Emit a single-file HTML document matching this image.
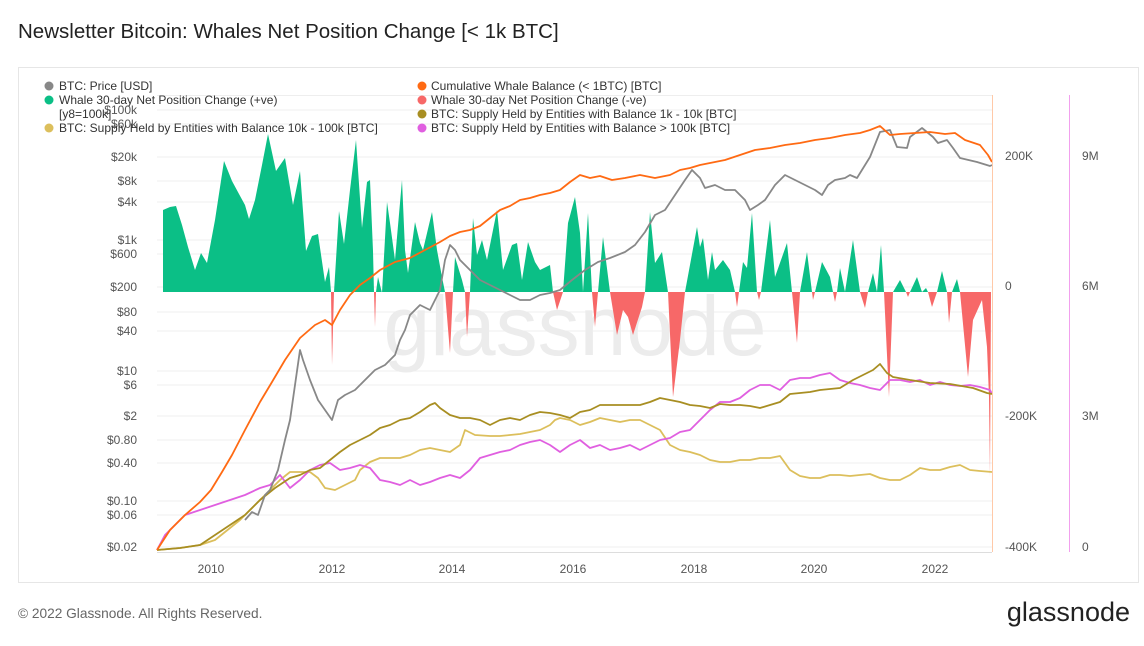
<!DOCTYPE html>
<html><head><meta charset="utf-8"><style>
body{margin:0;width:1144px;height:646px;background:#fff;font-family:"Liberation Sans",sans-serif;overflow:hidden}
svg{position:absolute;left:0;top:0}
</style></head><body>
<svg width="1144" height="646" viewBox="0 0 1144 646" font-family="Liberation Sans, sans-serif">
<text x="18" y="38" font-size="20.5" fill="#222">Newsletter Bitcoin: Whales Net Position Change [&lt; 1k BTC]</text>
<rect x="18.5" y="67.5" width="1120" height="515" fill="#fff" stroke="#e6e6e6"/>
<g stroke="#efefef" stroke-width="1">
<line x1="157" x2="992" y1="110" y2="110"/><line x1="157" x2="992" y1="124" y2="124"/><line x1="157" x2="992" y1="157" y2="157"/>
<line x1="157" x2="992" y1="181" y2="181"/><line x1="157" x2="992" y1="202" y2="202"/><line x1="157" x2="992" y1="240" y2="240"/>
<line x1="157" x2="992" y1="254" y2="254"/><line x1="157" x2="992" y1="287" y2="287"/><line x1="157" x2="992" y1="312" y2="312"/>
<line x1="157" x2="992" y1="331" y2="331"/><line x1="157" x2="992" y1="371" y2="371"/><line x1="157" x2="992" y1="385" y2="385"/>
<line x1="157" x2="992" y1="416" y2="416"/><line x1="157" x2="992" y1="440" y2="440"/><line x1="157" x2="992" y1="463" y2="463"/>
<line x1="157" x2="992" y1="501" y2="501"/><line x1="157" x2="992" y1="515" y2="515"/><line x1="157" x2="992" y1="547" y2="547"/>
</g>
<line x1="157" x2="992" y1="552.5" y2="552.5" stroke="#ddd"/>
<line x1="157" x2="992" y1="95.5" y2="95.5" stroke="#eee"/>
<text x="575" y="355" font-size="84" fill="#ececec" text-anchor="middle">glassnode</text>
<defs>
<clipPath id="up"><rect x="150" y="80" width="850" height="212"/></clipPath>
<clipPath id="dn"><rect x="150" y="292" width="850" height="300"/></clipPath>
</defs>
<polygon clip-path="url(#up)" fill="#0bbf86" points="157,292 163,292 163,210 170,207 176,206 182,225 188,247 195,270 201,253 207,263 215,220 224,161 232,181 239,194 245,205 249,219 255,200 262,165 268,134 276,171 285,158 293,205 300,171 306,251 312,236 318,234 325,282 329,267 331,292 332,365 334,292 339,211 344,244 350,190 356,140 362,228 367,182 370,180 373,251 374,292 375,327 376,292 378,277 382,293 387,202 390,223 395,260 402,180 405,250 408,273 415,222 420,243 423,250 432,212 437,250 442,277 445,292 450,353 453,292 455,257 462,280 465,292 467,337 470,292 473,218 477,255 482,240 487,260 497,210 503,270 512,245 517,243 522,280 528,242 535,262 540,270 550,265 553,292 557,310 563,292 568,223 575,197 580,233 583,292 588,213 592,292 595,327 598,292 603,237 610,292 617,335 623,310 628,317 633,335 642,307 645,292 650,212 655,263 662,252 668,292 673,397 680,340 685,292 697,227 700,247 703,238 708,280 712,252 715,270 723,260 730,270 735,292 737,307 739,292 743,262 747,268 752,213 757,292 759,300 761,292 770,220 775,277 787,243 792,292 797,343 800,292 807,252 812,292 813,300 815,292 822,262 830,277 833,292 835,302 837,292 840,268 845,292 853,240 860,292 865,308 868,292 873,273 877,292 881,245 884,292 889,397 893,292 900,280 906,292 908,297 910,292 917,277 922,292 926,288 928,292 932,307 937,292 942,271 947,292 949,323 952,292 957,279 960,292 968,377 973,320 982,300 987,347 989,397 990,477 991,292 992,292"/>
<polygon clip-path="url(#dn)" fill="#f76868" points="157,292 163,292 329,292 331,292 332,365 334,292 374,292 375,327 376,292 445,292 450,353 453,292 465,292 467,337 470,292 553,292 557,310 563,292 592,292 595,327 598,292 610,292 617,335 623,310 628,317 633,335 642,307 645,292 668,292 673,397 680,340 685,292 735,292 737,307 739,292 757,292 759,300 761,292 792,292 797,343 800,292 812,292 813,300 815,292 833,292 835,302 837,292 860,292 865,308 868,292 884,292 889,397 893,292 906,292 908,297 910,292 928,292 932,307 937,292 947,292 949,323 952,292 960,292 968,377 973,320 982,300 987,347 989,397 990,477 991,292 992,292"/>
<g fill="none" stroke-width="1.8" stroke-linejoin="round">
<polyline stroke="#dcbf5c" points="157,550 180,548 200,545 215,540 230,528 240,520 250,510 260,500 270,490 280,480 290,472 300,472 310,472 318,478 325,488 335,490 345,485 355,480 360,470 370,462 380,458 390,458 400,458 410,455 420,450 430,448 440,450 450,452 460,445 465,430 475,435 490,436 500,436 510,435 520,434 530,432 540,430 550,425 555,420 560,418 570,420 580,425 590,422 600,418 610,420 620,422 630,420 640,420 650,425 660,430 670,445 680,450 690,452 700,455 710,460 720,462 730,462 740,460 750,460 760,458 770,458 780,456 790,470 800,476 810,478 820,478 830,475 840,475 850,476 860,475 870,474 880,478 890,480 900,480 910,475 920,468 930,470 940,470 950,467 960,465 970,470 980,471 992,472"/>
<polyline stroke="#e05fe0" points="157,550 165,535 175,525 185,515 200,510 215,505 230,500 245,495 260,488 270,485 280,475 290,488 300,480 310,470 320,465 330,463 340,470 350,468 360,465 370,468 380,480 390,482 400,485 410,480 420,485 430,482 440,478 450,475 460,478 470,470 480,458 490,455 500,452 510,450 520,445 530,442 540,440 550,445 560,452 570,445 580,440 590,448 600,445 610,450 620,448 630,445 640,450 650,445 660,440 670,438 680,432 690,430 700,420 710,410 720,402 730,402 740,398 750,390 760,385 770,385 780,390 790,380 800,378 810,378 820,375 830,373 840,380 850,383 860,385 870,388 880,390 890,380 900,380 910,382 920,380 930,385 940,382 950,385 960,386 970,385 980,387 990,390 992,394"/>
<polyline stroke="#a88e22" points="157,550 180,548 200,545 215,535 230,525 245,515 260,500 275,488 290,478 300,475 310,470 320,468 330,460 340,452 350,445 360,440 370,435 380,428 390,425 400,420 410,418 420,412 430,405 435,403 440,408 450,415 460,418 470,418 480,420 490,425 500,420 510,418 520,420 530,415 540,412 550,413 560,415 570,418 580,412 590,410 600,405 610,405 620,405 630,405 640,405 650,402 660,398 670,400 680,402 690,405 700,406 710,408 720,404 730,405 740,405 750,406 760,408 770,405 780,402 790,394 800,393 810,392 820,390 830,389 840,388 853,380 865,374 873,370 880,364 887,373 893,377 910,380 930,383 950,384 973,388 987,393 992,394"/>
<polyline stroke="#888" points="245,520 252,512 258,515 265,495 270,490 278,470 285,440 290,420 295,385 300,350 303,360 310,380 318,400 325,410 332,420 338,400 345,395 355,390 365,380 375,370 385,365 395,355 400,340 405,330 410,315 420,305 430,310 440,290 445,260 450,245 455,250 460,260 470,270 480,280 490,285 500,290 510,295 520,300 530,300 540,295 550,293 560,290 572,280 585,270 598,262 610,258 625,252 635,245 645,232 655,215 665,210 675,195 685,180 692,170 700,178 705,188 715,185 725,190 735,190 745,200 750,210 758,205 765,200 775,185 785,175 795,180 805,185 815,190 822,195 828,185 835,180 845,178 850,175 857,178 870,157 880,132 890,130 897,147 907,148 910,137 922,128 933,137 938,143 947,140 953,148 960,158 977,162 990,166 992,165"/>
<polyline stroke="#ff6a13" points="157,550 170,530 185,515 200,502 211,490 222,472 232,455 245,430 260,402 272,382 285,360 300,338 315,325 325,320 332,325 340,310 350,295 360,285 370,278 380,270 395,262 410,258 425,250 440,242 450,236 460,232 470,230 480,226 490,218 500,210 510,206 520,200 530,198 540,195 550,193 560,190 570,182 580,175 590,178 600,176 612,180 625,178 640,175 655,178 670,175 680,170 690,168 700,165 715,162 725,160 740,155 755,150 770,148 785,145 800,143 815,140 830,138 845,135 860,133 870,130 880,126 890,135 900,134 915,133 930,132 945,134 955,133 965,140 980,145 988,155 992,162"/>
</g>
<line x1="992.5" x2="992.5" y1="95" y2="552" stroke="#ffc9a8"/>
<line x1="1069.5" x2="1069.5" y1="95" y2="552" stroke="#f2a0ee"/>
<g font-size="12" fill="#555" text-anchor="end">
<text x="137" y="114">$100k</text><text x="137" y="128">$60k</text><text x="137" y="161">$20k</text>
<text x="137" y="185">$8k</text><text x="137" y="206">$4k</text><text x="137" y="244">$1k</text>
<text x="137" y="258">$600</text><text x="137" y="291">$200</text><text x="137" y="316">$80</text>
<text x="137" y="335">$40</text><text x="137" y="375">$10</text><text x="137" y="389">$6</text>
<text x="137" y="420">$2</text><text x="137" y="444">$0.80</text><text x="137" y="467">$0.40</text>
<text x="137" y="505">$0.10</text><text x="137" y="519">$0.06</text><text x="137" y="551">$0.02</text>
</g>
<g font-size="12" fill="#555">
<text x="1005" y="160">200K</text><text x="1005" y="290">0</text><text x="1005" y="420">-200K</text><text x="1005" y="551">-400K</text>
<text x="1082" y="160">9M</text><text x="1082" y="290">6M</text><text x="1082" y="420">3M</text><text x="1082" y="551">0</text>
</g>
<g font-size="12" fill="#555" text-anchor="middle">
<text x="211" y="573">2010</text><text x="332" y="573">2012</text><text x="452" y="573">2014</text><text x="573" y="573">2016</text>
<text x="694" y="573">2018</text><text x="814" y="573">2020</text><text x="935" y="573">2022</text>
</g>
<g font-size="12" fill="#333">
<circle cx="49" cy="86" r="4.5" fill="#888"/><text x="59" y="90">BTC: Price [USD]</text>
<circle cx="49" cy="100" r="4.5" fill="#0bbf86"/><text x="59" y="104">Whale 30-day Net Position Change (+ve)</text>
<text x="59" y="118">[y8=100k]</text>
<circle cx="49" cy="128" r="4.5" fill="#dcbf5c"/><text x="59" y="132">BTC: Supply Held by Entities with Balance 10k - 100k [BTC]</text>
<circle cx="422" cy="86" r="4.5" fill="#ff6a13"/><text x="431" y="90">Cumulative Whale Balance (&lt; 1BTC) [BTC]</text>
<circle cx="422" cy="100" r="4.5" fill="#f76868"/><text x="431" y="104">Whale 30-day Net Position Change (-ve)</text>
<circle cx="422" cy="114" r="4.5" fill="#a88e22"/><text x="431" y="118">BTC: Supply Held by Entities with Balance 1k - 10k [BTC]</text>
<circle cx="422" cy="128" r="4.5" fill="#e05fe0"/><text x="431" y="132">BTC: Supply Held by Entities with Balance &gt; 100k [BTC]</text>
</g>
<text x="18" y="618" font-size="13.7" fill="#666">© 2022 Glassnode. All Rights Reserved.</text>
<text x="1130" y="621" font-size="27" fill="#222" text-anchor="end">glassnode</text>
</svg>
</body></html>
